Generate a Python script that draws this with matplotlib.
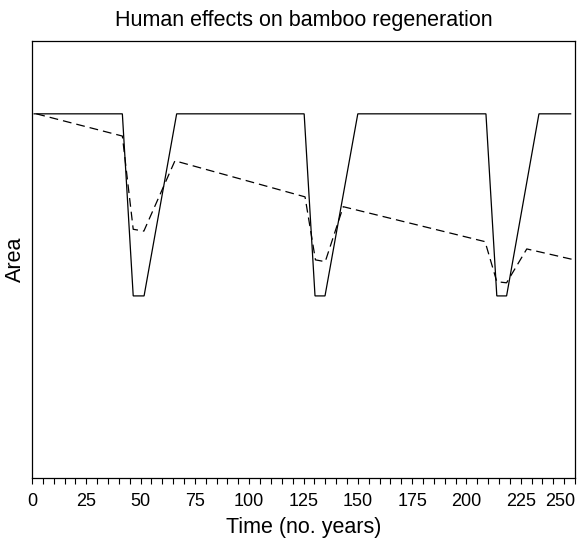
import matplotlib
matplotlib.use("Agg")
import matplotlib.pyplot as plt
from matplotlib.ticker import MultipleLocator

# Solid line: area without human effects
solid_t = [1, 41.6, 46.6, 51.6, 66.6, 125.3, 130.3, 134.9, 150.0, 209.0, 214.0, 218.5, 233.4, 248]
solid_y = [1.0, 1.0, 0.5, 0.5, 1.0, 1.0, 0.5, 0.5, 1.0, 1.0, 0.5, 0.5, 1.0, 1.0]

# Dashed line: area with human effects
dash_t = [2, 41.6, 46.6, 51.5, 65.8, 125.7, 130.5, 135.0, 143.3, 208.6, 214.0, 218.5, 227.8, 249]
dash_y = [1.0, 0.939, 0.683, 0.678, 0.871, 0.772, 0.599, 0.594, 0.745, 0.649, 0.539, 0.536, 0.629, 0.600]

xticks = [0, 25, 50, 75, 100, 125, 150, 175, 200, 225, 250]

plt.rcParams['font.family'] = ['Liberation Sans', 'DejaVu Sans']

fig = plt.figure(figsize=(5.83, 5.40), dpi=100)
ax = fig.add_axes([32/583, 1 - 478/540, (575 - 32)/583, (478 - 41)/540])

ax.plot(solid_t, solid_y, color='black', lw=0.9, solid_joinstyle='miter')
ax.plot(dash_t, dash_y, color='black', lw=0.9, linestyle=(0, (7, 4)))

ax.set_xlim(0, 250)
ax.set_ylim(0, 1.2)
ax.set_xticks(xticks)
labels = ax.set_xticklabels([str(v) for v in xticks], fontsize=13)
labels[-1].set_horizontalalignment('right')
ax.xaxis.set_minor_locator(MultipleLocator(5))
ax.tick_params(axis='x', which='both', direction='out', length=4.5, width=0.8, pad=6)
ax.set_yticks([])
for s in ax.spines.values():
    s.set_linewidth(0.9)

ax.set_title("Human effects on bamboo regeneration", fontsize=15.5, pad=11)
ax.set_xlabel("Time (no. years)", fontsize=15.5, labelpad=5)
ax.set_ylabel("Area", fontsize=15.5, labelpad=4)

fig.savefig("out.png", dpi=100)
